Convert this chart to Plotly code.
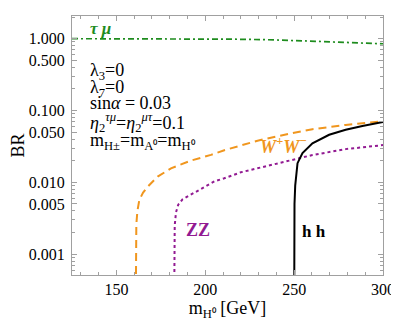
import plotly.graph_objects as go

# *** Data (BR vs m_H0 in GeV)
tm_mass = [125, 160, 180, 197, 215, 234, 250, 253, 262, 272, 290, 300]
tm_br = [1.0, 1.0, 0.995, 0.99, 0.985, 0.97, 0.95, 0.94, 0.92, 0.90, 0.87, 0.85]

ww_mass = [160.8, 160.9, 161.2, 161.8, 162.9, 165.0, 167.6, 173.2, 180.7, 192.0,
           203.2, 210.7, 229.4, 248.0, 260.3, 279.0, 297.8, 300.0]
ww_br = [1e-4, 0.0012, 0.0026, 0.0040, 0.0057, 0.0072, 0.0087, 0.012, 0.0157, 0.0201,
         0.0241, 0.028, 0.038, 0.048, 0.055, 0.063, 0.070, 0.071]

zz_mass = [182.4, 182.5, 182.8, 183.5, 184.8, 187.2, 192.0, 199.4, 205.1, 210.7,
           220.0, 229.4, 241.6, 248.1, 260.3, 279.0, 300.0]
zz_br = [1e-4, 0.0012, 0.0025, 0.0038, 0.0049, 0.0058, 0.0068, 0.0087, 0.0103, 0.0114,
         0.0138, 0.0157, 0.0185, 0.020, 0.024, 0.029, 0.033]

hh_mass = [250.0, 250.05, 250.2, 250.6, 251.2, 251.9, 254.7, 260.3, 269.7, 279.0, 288.4, 300.0]
hh_br = [1e-4, 0.002, 0.005, 0.009, 0.013, 0.0185, 0.0255, 0.035, 0.046, 0.054, 0.061, 0.069]

y_tickvals = [0.001, 0.005, 0.01, 0.05, 0.1, 0.5, 1.0]
y_ticktext = ["0.001", "0.005", "0.010", "0.050", "0.100", "0.500", "1.000"]
x_tickvals = [150, 200, 250, 300]

GREEN = "#1E8C1E"
ORANGE = "#F0961E"
PURPLE = "#921A92"
AXIS = "#A0A0A0"
FONT = "Liberation Serif, Times New Roman, serif"

y_minor = [m * 10 ** e for e in range(-4, 1) for m in range(2, 10)]
x_minor = list(range(130, 301, 10))

fig = go.Figure()
fig.add_trace(go.Scatter(x=tm_mass, y=tm_br, mode="lines",
                         line=dict(color=GREEN, width=1.7, dash="6px,3px,2px,3px")))
fig.add_trace(go.Scatter(x=ww_mass, y=ww_br, mode="lines",
                         line=dict(color=ORANGE, width=2, dash="8px,5px")))
fig.add_trace(go.Scatter(x=zz_mass, y=zz_br, mode="lines",
                         line=dict(color=PURPLE, width=2, dash="dot")))
fig.add_trace(go.Scatter(x=hh_mass, y=hh_br, mode="lines",
                         line=dict(color="black", width=2)))

axis_common = dict(
    showline=True, linecolor=AXIS, linewidth=1, mirror="ticks",
    ticks="inside", tickcolor=AXIS, ticklen=5, showgrid=False, zeroline=False,
    tickfont=dict(family=FONT, size=16, color="black"), automargin=False,
)

fig.update_xaxes(
    range=[125, 300], tickvals=x_tickvals,
    minor=dict(tickvals=x_minor, ticks="inside", ticklen=3, tickcolor=AXIS),
    title=dict(text="m<sub>H⁰</sub> [GeV]", font=dict(family=FONT, size=18), standoff=4),
    **axis_common,
)
fig.update_yaxes(
    type="log", range=[-3.29, 0.316], tickvals=y_tickvals, ticktext=y_ticktext,
    minor=dict(tickvals=y_minor, ticks="inside", ticklen=3, tickcolor=AXIS),
    ticklabelstandoff=3,
    title=dict(text="BR", font=dict(family=FONT, size=18), standoff=6),
    **axis_common,
)

annotations = [
    # curve labels
    dict(x=0.0915, y=0.952, xref="paper", yref="paper",
         text="<b><i>τ μ</i></b>", font=dict(color=GREEN, size=17)),
    dict(x=244, y=-1.48, text="<b><i>W<sup>+</sup>W<sup>−</sup></i></b>",
         font=dict(color=ORANGE, size=18)),
    dict(x=196, y=-2.663, text="<b>ZZ</b>", font=dict(color=PURPLE, size=18)),
    dict(x=261.2, y=-2.69, text="<b>h h</b>", font=dict(color="black", size=17)),
    # parameter block
    dict(x=0.0514, y=0.785, xref="paper", yref="paper", xanchor="left",
         text="λ<sub>3</sub>=0"),
    dict(x=0.0514, y=0.722, xref="paper", yref="paper", xanchor="left",
         text="λ<sub>7</sub>=0"),
    dict(x=0.0514, y=0.664, xref="paper", yref="paper", xanchor="left",
         text="sin<i>α</i> = 0.03"),
    dict(x=0.0514, y=0.587, xref="paper", yref="paper", xanchor="left",
         text="<i>η</i><sub>2</sub><sup><i>τμ</i></sup>=<i>η</i><sub>2</sub><sup><i>μτ</i></sup>=0.1"),
    dict(x=0.0514, y=0.515, xref="paper", yref="paper", xanchor="left",
         text="m<sub>H±</sub>=m<sub>A⁰</sub>=m<sub>H⁰</sub>"),
]
for a in annotations:
    a.setdefault("showarrow", False)
    a.setdefault("xanchor", "center")
    a.setdefault("yanchor", "middle")
    a.setdefault("font", dict(size=18))
    a["font"].setdefault("family", FONT)
    a["font"].setdefault("color", "black")

# the page body adds an 8 px offset, so the margins are trimmed to keep the
# plot frame where the reference has it
fig.update_layout(
    width=399, height=332,
    margin=dict(l=64, r=23.6, t=8, b=65),
    paper_bgcolor="white", plot_bgcolor="white",
    showlegend=False,
    font=dict(family=FONT, color="black"),
    annotations=annotations,
)

fig.write_html("out.html")
